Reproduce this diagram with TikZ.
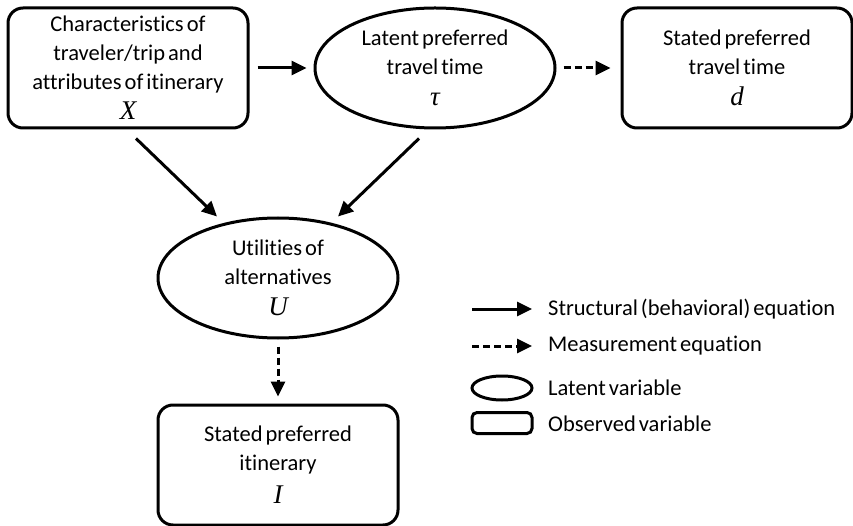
\documentclass[tikz,border=0pt]{standalone}
\usepackage{fontspec}
\setmainfont{Carlito}[Ligatures=NoCommon,WordSpace=0.6]
\newfontfamily\symfont{Liberation Serif}
\usetikzlibrary{arrows.meta,shapes.geometric,positioning}
\newcommand{\vsym}[1]{{\fontsize{27}{29}\selectfont\symfont\itshape #1}}

\begin{document}
\begin{tikzpicture}[x=1pt,y=-1pt,
    every node/.style={font=\fontsize{22.5}{29}\selectfont,align=center,inner sep=0pt},
    observed/.style={draw,line width=3pt,rounded corners=15pt,minimum width=240pt,minimum height=120pt},
    latent/.style={draw,line width=3pt,ellipse,minimum width=240pt,minimum height=120pt},
    arr/.style={line width=3pt,-{Triangle[length=15pt,width=14pt]}},
    darr/.style={arr,dash pattern=on 7pt off 4pt}]
            \useasboundingbox (0,0) rectangle (853,526);
            \node[observed] (X) at (128,68) {Characteristics of\\traveler/trip and\\attributes of itinerary\\[1pt]\vsym{X}};
            \node[latent] (tau) at (435,68) {Latent preferred\\travel time\\[2pt]\vsym{τ}};
            \node[observed,minimum width=230pt] (d) at (737,68) {Stated preferred\\travel time\\[2pt]\vsym{d}};
            \node[latent] (U) at (278,278) {Utilities of\\alternatives\\[2pt]\vsym{U}};
            \node[observed] (I) at (278,465) {Stated preferred\\itinerary\\[4pt]\vsym{I}};
            \draw[arr,shorten <=8pt,shorten >=7pt] (X) -- (tau);
            \draw[darr,shorten <=7pt,shorten >=10pt] (tau) -- (d);
            \draw[arr] ([xshift=8pt,yshift=-9pt]X.south) -- ([xshift=-61pt]U.north);
            \draw[arr] ([xshift=-16pt,yshift=-9pt]tau.south) -- ([xshift=60pt]U.north);
            \draw[darr,shorten <=7pt,shorten >=7pt] (U) -- (I);
            \coordinate (s1) at (472,309);
            \coordinate (s2) at (532,309);
            \coordinate (m1) at (472,346);
            \coordinate (m2) at (532,346);
            \draw[arr] (s1) -- (s2);
            \draw[darr] (m1) -- (m2);
            \node[draw,ellipse,line width=3pt,minimum width=60pt,minimum height=24pt] (lv) at (502,388) {};
            \node[draw,line width=3pt,rounded corners=5pt,minimum width=60pt,minimum height=21pt] (ov) at (502,423) {};
            \node[anchor=west] (st) at (548,309) {Structural (behavioral) equation};
            \node[anchor=west] (me) at (548,346) {Measurement equation};
            \node[anchor=west] (la) at (548,388) {Latent variable};
            \node[anchor=west] (ob) at (548,424) {Observed variable};
          \end{tikzpicture}
\end{document}
